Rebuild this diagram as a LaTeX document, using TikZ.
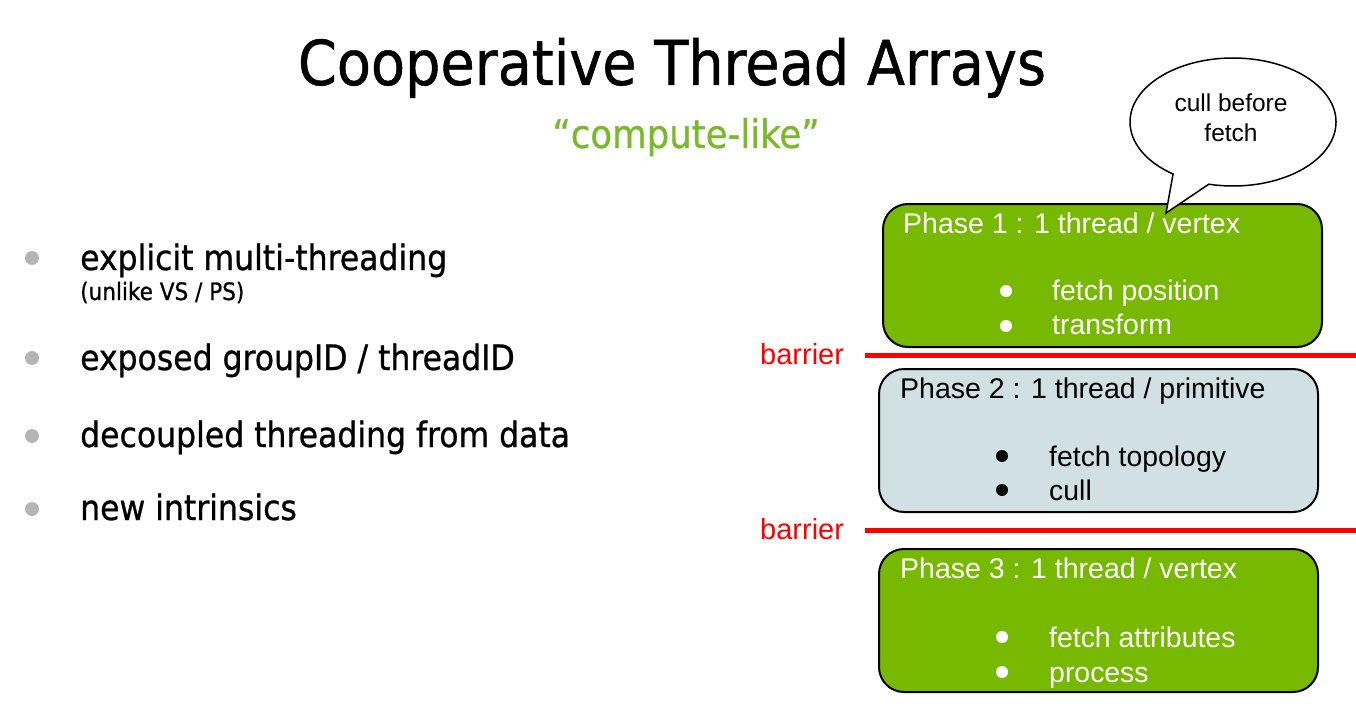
\documentclass[tikz,border=0pt]{standalone}
\usepackage{fontspec}
\setmainfont{Liberation Sans}
\newfontfamily\titlefont[FakeBold=0.8]{DejaVu Sans Condensed}
\usetikzlibrary{shapes.callouts}
\definecolor{nvgreen}{HTML}{76B900}
\definecolor{lightgreen}{HTML}{7AB929}
\definecolor{phasegray}{HTML}{D1E0E3}
\definecolor{bulgray}{HTML}{B5B5B5}
\definecolor{barred}{HTML}{FF0000}
\newcommand{\fsz}[1]{\fontsize{#1}{#1}\selectfont}
\begin{document}
\begin{tikzpicture}[x=1pt,y=-1pt,
  phasebox/.style={draw=black, line width=2pt, rounded corners=25pt, minimum width=439pt, minimum height=143pt, anchor=north west, inner sep=0pt},
  phasetitle/.style={anchor=base west, inner sep=0pt, font=\fsz{28.5}},
  itemtext/.style={anchor=base west, inner sep=0pt, font=\fsz{28.4}},
  itemdot/.style={circle, inner sep=0pt, minimum size=12pt},
  lbdot/.style={circle, fill=bulgray, inner sep=0pt, minimum size=14pt},
  lbtext/.style={anchor=base west, inner sep=0pt, font=\titlefont\fsz{35}},
  barrierline/.style={draw=barred, line width=5pt},
  barriertext/.style={anchor=base west, inner sep=0pt, text=barred, font=\fsz{29}}]
\useasboundingbox (0,0) rectangle (1356,706);

% title
\node[anchor=base, inner sep=0pt, font=\titlefont\fsz{62}] (title) at (672,85) {Cooperative Thread Arrays};
\node[anchor=base, inner sep=0pt, text=lightgreen, font=\titlefont\fsz{39.5}] (subtitle) at (686,148) {“compute-like”};

% left bullets
\node[lbdot] (d1) at (32,258) {};
\node[lbtext] (t1) at (80,270) {explicit multi-threading};
\node[anchor=base west, inner sep=0pt, font=\titlefont\fsz{24}] (t1b) at (80,300) {(unlike VS / PS)};
\node[lbdot] (d2) at (32,358) {};
\node[lbtext] (t2) at (80,370) {exposed groupID / threadID};
\node[lbdot] (d3) at (32,436) {};
\node[lbtext] (t3) at (80,447) {decoupled threading from data};
\node[lbdot] (d4) at (32,509) {};
\node[lbtext] (t4) at (80,520) {new intrinsics};

% phase 1
\node[phasebox, fill=nvgreen] (p1) at (882,203) {};
\node[phasetitle, text=white] (p1t) at (903,233) {Phase 1 : 1 thread / vertex};
\node[itemdot, fill=white] (p1d1) at (1006,291) {};
\node[itemtext, text=white] (p1i1) at (1052,300) {fetch position};
\node[itemdot, fill=white] (p1d2) at (1006,326) {};
\node[itemtext, text=white] (p1i2) at (1052,334) {transform};

% barrier 1
\node[barriertext] (b1t) at (760,364) {barrier};
\coordinate (b1s) at (865,355);
\coordinate (b1e) at (1356,355);
\draw[barrierline] (b1s) -- (b1e);

% phase 2
\node[phasebox, fill=phasegray] (p2) at (878,368) {};
\node[phasetitle, text=black] (p2t) at (900,398) {Phase 2 : 1 thread / primitive};
\node[itemdot, fill=black] (p2d1) at (1002,456) {};
\node[itemtext, text=black] (p2i1) at (1049,466) {fetch topology};
\node[itemdot, fill=black] (p2d2) at (1002,490) {};
\node[itemtext, text=black] (p2i2) at (1049,500) {cull};

% barrier 2
\node[barriertext] (b2t) at (760,539) {barrier};
\coordinate (b2s) at (865,530);
\coordinate (b2e) at (1356,530);
\draw[barrierline] (b2s) -- (b2e);

% phase 3
\node[phasebox, fill=nvgreen] (p3) at (878,548) {};
\node[phasetitle, text=white] (p3t) at (900,578) {Phase 3 : 1 thread / vertex};
\node[itemdot, fill=white] (p3d1) at (1002,637) {};
\node[itemtext, text=white] (p3i1) at (1049,647) {fetch attributes};
\node[itemdot, fill=white] (p3d2) at (1002,672) {};
\node[itemtext, text=white] (p3i2) at (1049,682) {process};

% speech bubble
\coordinate (tip) at (1166,213);
\node[ellipse callout, draw=black, fill=white, line width=1.5pt, minimum width=206pt, minimum height=128pt, inner sep=0pt, callout absolute pointer={(tip)}, callout pointer arc=22] (bubble) at (1233,122) {};
\node[anchor=base, inner sep=0pt, font=\fsz{24.5}] (bt1) at (1231,111) {cull before};
\node[anchor=base, inner sep=0pt, font=\fsz{24.5}] (bt2) at (1231,141) {fetch};
\end{tikzpicture}
\end{document}
